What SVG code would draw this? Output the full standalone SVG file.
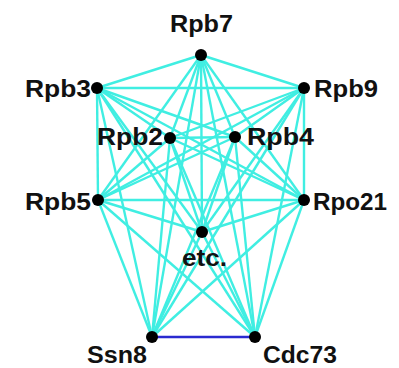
<svg xmlns="http://www.w3.org/2000/svg" width="399" height="368" viewBox="0 0 399 368">
  <style>
    .e { stroke: #40eee2; stroke-width: 2.4; fill: none; }
    .b { stroke: #2a2ad0; stroke-width: 2.6; fill: none; }
    .n { fill: #000; }
    .t { font-family: "Liberation Sans", Arial, sans-serif; font-weight: bold; font-size: 23px; fill: #111; }
  </style>
  <rect width="399" height="368" fill="#fff"/>
  <!-- every protein pair is linked; Ssn8–Cdc73 drawn in blue -->
  <g id="edges">
    <!-- Rpb7 -->
    <line class="e" x1="201" y1="55" x2="97" y2="88"/>
    <line class="e" x1="201" y1="55" x2="304" y2="88"/>
    <line class="e" x1="201" y1="55" x2="170" y2="138"/>
    <line class="e" x1="201" y1="55" x2="235" y2="137"/>
    <line class="e" x1="201" y1="55" x2="98" y2="200"/>
    <line class="e" x1="201" y1="55" x2="304" y2="200"/>
    <line class="e" x1="201" y1="55" x2="202" y2="232"/>
    <line class="e" x1="201" y1="55" x2="152" y2="337"/>
    <line class="e" x1="201" y1="55" x2="255" y2="337"/>
    <!-- Rpb3 -->
    <line class="e" x1="97" y1="88" x2="304" y2="88"/>
    <line class="e" x1="97" y1="88" x2="170" y2="138"/>
    <line class="e" x1="97" y1="88" x2="235" y2="137"/>
    <line class="e" x1="97" y1="88" x2="98" y2="200"/>
    <line class="e" x1="97" y1="88" x2="304" y2="200"/>
    <line class="e" x1="97" y1="88" x2="202" y2="232"/>
    <line class="e" x1="97" y1="88" x2="152" y2="337"/>
    <line class="e" x1="97" y1="88" x2="255" y2="337"/>
    <!-- Rpb9 -->
    <line class="e" x1="304" y1="88" x2="170" y2="138"/>
    <line class="e" x1="304" y1="88" x2="235" y2="137"/>
    <line class="e" x1="304" y1="88" x2="98" y2="200"/>
    <line class="e" x1="304" y1="88" x2="304" y2="200"/>
    <line class="e" x1="304" y1="88" x2="202" y2="232"/>
    <line class="e" x1="304" y1="88" x2="152" y2="337"/>
    <line class="e" x1="304" y1="88" x2="255" y2="337"/>
    <!-- Rpb2 -->
    <line class="e" x1="170" y1="138" x2="235" y2="137"/>
    <line class="e" x1="170" y1="138" x2="98" y2="200"/>
    <line class="e" x1="170" y1="138" x2="304" y2="200"/>
    <line class="e" x1="170" y1="138" x2="202" y2="232"/>
    <line class="e" x1="170" y1="138" x2="152" y2="337"/>
    <line class="e" x1="170" y1="138" x2="255" y2="337"/>
    <!-- Rpb4 -->
    <line class="e" x1="235" y1="137" x2="98" y2="200"/>
    <line class="e" x1="235" y1="137" x2="304" y2="200"/>
    <line class="e" x1="235" y1="137" x2="202" y2="232"/>
    <line class="e" x1="235" y1="137" x2="152" y2="337"/>
    <line class="e" x1="235" y1="137" x2="255" y2="337"/>
    <!-- Rpb5 -->
    <line class="e" x1="98" y1="200" x2="304" y2="200"/>
    <line class="e" x1="98" y1="200" x2="202" y2="232"/>
    <line class="e" x1="98" y1="200" x2="152" y2="337"/>
    <line class="e" x1="98" y1="200" x2="255" y2="337"/>
    <!-- Rpo21 -->
    <line class="e" x1="304" y1="200" x2="202" y2="232"/>
    <line class="e" x1="304" y1="200" x2="152" y2="337"/>
    <line class="e" x1="304" y1="200" x2="255" y2="337"/>
    <!-- etc. -->
    <line class="e" x1="202" y1="232" x2="152" y2="337"/>
    <line class="e" x1="202" y1="232" x2="255" y2="337"/>
    <!-- Ssn8 – Cdc73 -->
    <line class="b" x1="152" y1="337" x2="255" y2="337"/>
  </g>
  <g id="Rpb7"><circle class="n" cx="201" cy="55" r="6"/><text class="t" x="170" y="32" textLength="63" lengthAdjust="spacingAndGlyphs">Rpb7</text></g>
  <g id="Rpb3"><circle class="n" cx="97" cy="88" r="6"/><text class="t" x="25" y="97" textLength="66" lengthAdjust="spacingAndGlyphs">Rpb3</text></g>
  <g id="Rpb9"><circle class="n" cx="304" cy="88" r="6"/><text class="t" x="314" y="97" textLength="64" lengthAdjust="spacingAndGlyphs">Rpb9</text></g>
  <g id="Rpb2"><circle class="n" cx="170" cy="138" r="6"/><text class="t" x="97" y="145" textLength="66" lengthAdjust="spacingAndGlyphs">Rpb2</text></g>
  <g id="Rpb4"><circle class="n" cx="235" cy="137" r="6"/><text class="t" x="247" y="145" textLength="67" lengthAdjust="spacingAndGlyphs">Rpb4</text></g>
  <g id="Rpb5"><circle class="n" cx="98" cy="200" r="6"/><text class="t" x="25" y="210" textLength="66" lengthAdjust="spacingAndGlyphs">Rpb5</text></g>
  <g id="Rpo21"><circle class="n" cx="304" cy="200" r="6"/><text class="t" x="313" y="210" textLength="74" lengthAdjust="spacingAndGlyphs">Rpo21</text></g>
  <g id="etc"><circle class="n" cx="202" cy="232" r="6"/><text class="t" x="182" y="266" textLength="45" lengthAdjust="spacingAndGlyphs">etc.</text></g>
  <g id="Ssn8"><circle class="n" cx="152" cy="337" r="6"/><text class="t" x="87" y="363" textLength="60" lengthAdjust="spacingAndGlyphs">Ssn8</text></g>
  <g id="Cdc73"><circle class="n" cx="255" cy="337" r="6"/><text class="t" x="263" y="363" textLength="74" lengthAdjust="spacingAndGlyphs">Cdc73</text></g>
</svg>
